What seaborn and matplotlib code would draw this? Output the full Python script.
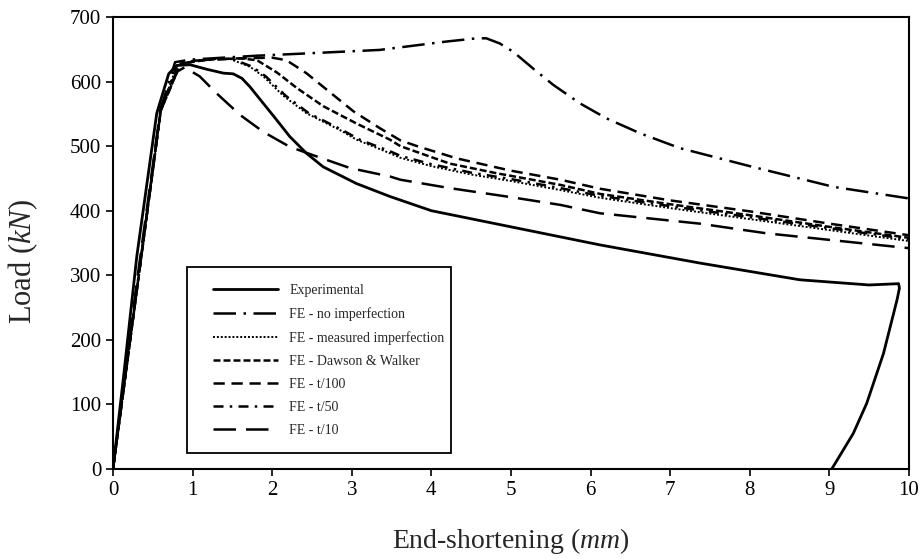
import matplotlib
matplotlib.use("Agg")
import matplotlib.pyplot as plt
from matplotlib.patches import Rectangle
import seaborn as sns
import pandas as pd

# load vs end-shortening curves
exp_x = [0, 0.13, 0.3, 0.55, 0.7, 0.8, 0.97, 1.18, 1.39, 1.51, 1.62, 1.72, 1.89, 2.06, 2.22,
         2.43, 2.64, 3.06, 3.48, 4.0, 5.0, 6.12, 7.37, 8.63, 9.5, 9.87, 9.88, 9.85, 9.68,
         9.47, 9.3, 9.03]
exp_y = [0, 140, 330, 551, 612, 625, 626, 619, 613, 612, 605, 592, 566, 540, 515,
         489, 468, 442, 422, 400, 375, 347, 319, 293, 285, 287, 280, 262, 179,
         102, 55, 0]

noimp_x = [0, 0.6, 0.78, 0.97, 1.8, 2.5, 3.35, 4.19, 4.57, 4.69, 4.86, 5.03, 5.28, 5.53,
           5.87, 6.2, 6.62, 7.12, 8.0, 9.05, 10]
noimp_y = [0, 558, 630, 634, 640, 644, 649, 662, 667, 667, 659, 646, 620, 595,
           566, 543, 520, 497, 469, 437, 419]

meas_x = [0, 0.6, 0.8, 1.0, 1.3, 1.47, 1.72, 1.89, 2.14, 2.43, 2.85, 3.06, 3.48, 3.61,
          4.0, 4.5, 5.0, 5.62, 6.12, 7.0, 8.0, 9.0, 10]
meas_y = [0, 555, 624, 632, 635, 635, 623, 608, 578, 551, 525, 510, 489, 482,
          469, 456, 446, 432, 420, 404, 387, 370, 353]

dw_x = [0, 0.6, 0.85, 1.2, 1.6, 1.81, 2.06, 2.31, 2.64, 3.06, 3.48, 3.61, 4.23, 4.82,
        5.0, 5.62, 6.12, 7.0, 8.0, 9.0, 10]
dw_y = [0, 555, 628, 634, 636, 633, 614, 590, 562, 535, 510, 500, 473, 458,
        454, 440, 426, 410, 393, 375, 358]

t100_x = [0, 0.6, 0.85, 1.2, 1.6, 2.0, 2.18, 2.43, 2.73, 3.02, 3.35, 3.61, 3.82, 4.32,
          4.82, 5.0, 5.62, 6.12, 7.0, 8.0, 9.0, 10]
t100_y = [0, 555, 628, 634, 636, 637, 633, 613, 583, 554, 528, 509, 500, 481,
          467, 462, 448, 434, 416, 399, 380, 362]

t50_x = [0, 0.6, 0.8, 1.0, 1.3, 1.5, 1.75, 1.92, 2.17, 2.46, 2.88, 3.1, 3.5, 3.61,
         4.0, 4.5, 5.0, 5.62, 6.12, 7.0, 8.0, 9.0, 10]
t50_y = [0, 555, 624, 632, 635, 635, 623, 608, 578, 551, 525, 510, 491, 485,
         472, 459, 449, 435, 423, 407, 390, 373, 356]

t10_x = [0, 0.3, 0.6, 0.8, 0.9, 1.09, 1.3, 1.6, 1.89, 2.22, 2.56, 2.98, 3.48, 3.61,
         4.23, 5.0, 5.62, 6.12, 7.37, 8.21, 10]
t10_y = [0, 290, 560, 615, 622, 608, 582, 548, 522, 499, 484, 466, 453, 448,
         435, 421, 409, 396, 380, 365, 342]

labels = ["Experimental", "FE - no imperfection", "FE - measured imperfection",
          "FE - Dawson & Walker", "FE - t/100", "FE - t/50", "FE - t/10"]

sns.set_theme(style="ticks")
plt.rcParams['font.family'] = ['Liberation Serif', 'DejaVu Serif']
plt.rcParams['mathtext.fontset'] = 'custom'
plt.rcParams['mathtext.rm'] = 'Liberation Serif'
plt.rcParams['mathtext.it'] = 'Liberation Serif:italic'

fig = plt.figure(figsize=(9.23, 5.59), dpi=100)
ax = fig.add_axes([0.1224, 0.161, 0.8624, 0.8086])

series = [(exp_x, exp_y, '-', 2.0),
          (noimp_x, noimp_y, (0, (9, 3, 1, 3)), 1.8),
          (meas_x, meas_y, (0, (1, 1)), 1.4),
          (dw_x, dw_y, (0, (2.8, 1.2)), 1.8),
          (t100_x, t100_y, (0, (4.5, 2.7)), 1.8),
          (t50_x, t50_y, (0, (4, 2.5, 1, 2.5)), 1.8),
          (t10_x, t10_y, (0, (9, 4)), 1.8)]

for (xs, ys, ls, lw), lab in zip(series, labels):
    df = pd.DataFrame({'x': xs, 'y': ys})
    sns.lineplot(data=df, x='x', y='y', ax=ax, sort=False, estimator=None,
                 color='black', linestyle=ls, linewidth=lw, label=lab)

ax.set_xlim(0, 10)
ax.set_ylim(0, 700)
ax.set_xticks(range(0, 11))
ax.set_yticks(range(0, 701, 100))
ax.tick_params(direction='out', length=5, width=1.2, colors='black', labelsize=15)
for sp in ax.spines.values():
    sp.set_color('black')
    sp.set_linewidth(1.5)

ax.set_xlabel("End-shortening ($mm$)", fontsize=20, labelpad=19)
ax.set_ylabel("Load ($kN$)", fontsize=22)
ax.yaxis.set_label_coords(-0.092, 0.46)

# legend entries without frame, box drawn separately (tight excel-like border)
leg = ax.legend(loc='upper left', bbox_to_anchor=(0.1256, 0.409), fontsize=10,
                handlelength=4.68, labelspacing=0.72, frameon=False,
                borderpad=0, borderaxespad=0, handletextpad=0.8)
ax.add_patch(Rectangle((0.093, 0.0354), 0.332, 0.4115, transform=ax.transAxes,
                       fill=True, facecolor='white', edgecolor='black', lw=1.3, zorder=4))
leg.set_zorder(5)

fig.savefig("out.png", dpi=100)
